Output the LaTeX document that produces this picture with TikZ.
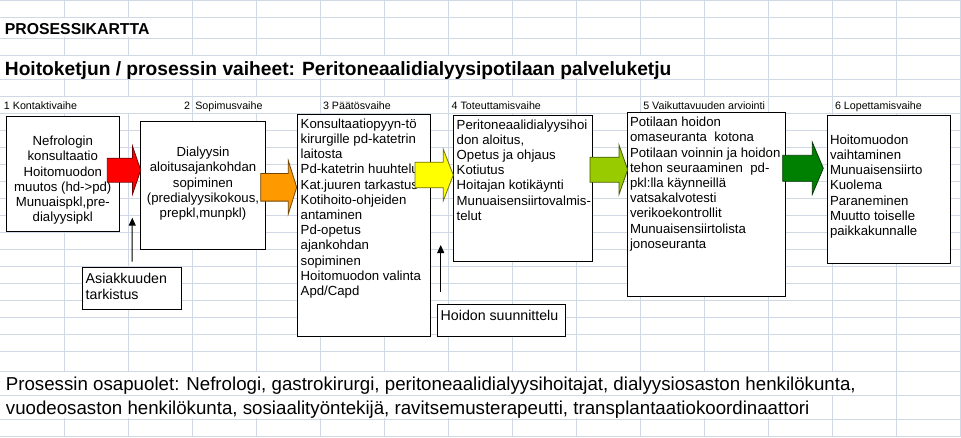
\documentclass[tikz,border=0pt]{standalone}
\usepackage{fontspec}
\setmainfont{Liberation Sans}
\usetikzlibrary{arrows.meta}
\definecolor{gridc}{RGB}{208,215,229}
\definecolor{arrRed}{RGB}{255,0,0}
\definecolor{arrOrange}{RGB}{255,153,0}
\definecolor{arrYellow}{RGB}{255,255,0}
\definecolor{arrLime}{RGB}{153,204,0}
\definecolor{arrGreen}{RGB}{0,128,0}
\newcommand\barrow[7]{%
  \filldraw[blockarrow,fill=#1,draw=#1!45!black]
    (#2,#5-#6) -- (#3,#5-#6) -- (#3,#5-#7) -- (#4,#5) -- (#3,#5+#7)
    -- (#3,#5+#6) -- (#2,#5+#6) -- cycle;}
\begin{document}
\begin{tikzpicture}[x=1pt,y=-1pt,
  gridline/.style={draw=gridc,line width=1pt},
  mask/.style={fill=white},
  box/.style={draw=black,fill=white,line width=1pt,inner sep=0pt,outer sep=0pt,rectangle},
  btext/.style={inner sep=0pt,outer sep=0pt,font=\fontsize{13.2}{15.2}\selectfont},
  ctext/.style={inner sep=0pt,outer sep=0pt,font=\fontsize{14.2}{16}\selectfont,align=left,anchor=north west},
  lbl/.style={inner sep=0pt,outer sep=0pt,font=\fontsize{10.7}{12}\selectfont,anchor=base west},
  blockarrow/.style={line width=0.8pt,line join=miter},
  uparrow/.style={draw=black,line width=1pt,-{Triangle[width=7pt,length=8pt]}}]
\useasboundingbox (0,0) rectangle (961,437);
\fill[white] (0,0) rectangle (961,437);
% grid
\foreach \y in {0.5,17,38,55,79,96.5,113.5,130.5,147.5,164.5,181.5,198.5,215.5,232.5,249.5,266.5,283.5,300.5,317.5,334.5,351.5,371,395.5,419,436}
  \draw[gridline] (0,\y) -- (961,\y);
\foreach \x in {64,128,...,960}
  \draw[gridline] (\x,0) -- (\x,437);
% overflow masks (text spilling over cells hides grid lines)
\fill[mask] (60,17.6) rectangle (150,37.4);
\fill[mask] (60,55.6) rectangle (700,78.4);
\fill[mask] (60,97.1) rectangle (70,112.9);
\fill[mask] (124,97.1) rectangle (132,112.9);
\fill[mask] (252,97.1) rectangle (260,112.9);
\fill[mask] (380,97.1) rectangle (388,112.9);
\fill[mask] (508,97.1) rectangle (516,112.9);
\fill[mask] (700,97.1) rectangle (708,112.9);
\fill[mask] (892,97.1) rectangle (900,112.9);
\fill[mask] (60,371.6) rectangle (840,394.9);
\fill[mask] (60,396.1) rectangle (780,418.4);
% titles
\node[inner sep=0pt,anchor=base west,font=\bfseries\fontsize{15.8}{18}\selectfont] (title1) at (4.7,34.3) {PROSESSIKARTTA};
\node[inner sep=0pt,anchor=base west,font=\bfseries\fontsize{19.2}{22}\selectfont] (title2) at (4.7,75.3) {Hoitoketjun / prosessin vaiheet: Peritoneaalidialyysipotilaan palveluketju};
% phase labels
\node[lbl] (l1) at (4,109.3) {1 Kontaktivaihe};
\node[lbl,anchor=base east] (l2a) at (190,109.3) {2};
\node[lbl] (l2) at (195.3,109.3) {Sopimusvaihe};
\node[lbl] (l3) at (323,109.3) {3 Päätösvaihe};
\node[lbl] (l4) at (451.7,109.3) {4 Toteuttamisvaihe};
\node[lbl] (l5) at (643.3,109.3) {5 Vaikuttavuuden arviointi};
\node[lbl] (l6) at (835,109.3) {6 Lopettamisvaihe};
% boxes
\node[box,anchor=north west,minimum width=113,minimum height=115] (b1) at (6.3,116.3) {};
\node[box,anchor=north west,minimum width=125.4,minimum height=127.7] (b2) at (140.3,121.3) {};
\node[box,anchor=north west,minimum width=133.4,minimum height=222] (b3) at (297.3,114.3) {};
\node[box,anchor=north west,minimum width=139,minimum height=145.3] (b4) at (453.3,115.7) {};
\node[box,anchor=north west,minimum width=157.6,minimum height=183.3] (b5) at (627.7,112.7) {};
\node[box,anchor=north west,minimum width=123,minimum height=147.7] (b6) at (827.3,115.3) {};
\node[box,anchor=north west,minimum width=99.4,minimum height=41.6] (asiak) at (82.3,267.7) {};
\node[box,anchor=north west,minimum width=128.4,minimum height=32.4] (hoidon) at (437.3,304.3) {};
% box texts
\node[btext,align=center,anchor=north] (t1) at (62.8,145.7-10.64) {\strut Nefrologin\\konsultaatio\\Hoitomuodon\\muutos (hd->pd)\\Munuaispkl,pre-\\dialyysipkl};
\node[btext,align=center,anchor=north] (t2) at (203,156.7-10.64) {\strut Dialyysin\\aloitusajankohdan\\sopiminen\\(predialyysikokous,\\prepkl,munpkl)};
\node[btext,align=left,anchor=north west] (t3) at (300.7,128.3-10.64) {\strut Konsultaatiopyyn-tö\\kirurgille pd-katetrin\\laitosta\\Pd-katetrin huuhtelu\\Kat.juuren tarkastus\\Kotihoito-ohjeiden\\antaminen\\Pd-opetus\\ajankohdan\\sopiminen\\Hoitomuodon valinta\\Apd/Capd};
\node[btext,align=left,anchor=north west] (t4) at (456.7,129-10.64) {\strut Peritoneaalidialyysihoi\\don aloitus,\\Opetus ja ohjaus\\Kotiutus\\Hoitajan kotikäynti\\Munuaisensiirtovalmis-\\telut};
\node[btext,align=left,anchor=north west] (t5) at (630,126.7-10.64) {\strut Potilaan hoidon\\omaseuranta\ \ kotona\\Potilaan voinnin ja hoidon\\tehon seuraaminen\ \ pd-\\pkl:lla käynneillä\\vatsakalvotesti\\verikoekontrollit\\Munuaisensiirtolista\\jonoseuranta};
\node[btext,align=left,anchor=north west] (t6) at (830,144.3-10.64) {\strut Hoitomuodon\\vaihtaminen\\Munuaisensiirto\\Kuolema\\Paraneminen\\Muutto toiselle\\paikkakunnalle};
\node[ctext] (ta) at (85.7,283.3-11.2) {\strut Asiakkuuden\\tarkistus};
\node[ctext] (th) at (440.7,320-11.2) {\strut Hoidon suunnittelu};
% block arrows
\barrow{arrRed}{107.3}{132.5}{140.7}{170.2}{12}{24}
\barrow{arrOrange}{260.7}{288.3}{296.7}{187.3}{13.8}{26.7}
\barrow{arrYellow}{415}{443.3}{453.3}{175}{12.8}{25.7}
\barrow{arrLime}{590}{619}{627.7}{169.7}{12.5}{24.7}
\barrow{arrGreen}{782.7}{812.3}{823.3}{168.3}{13}{26}
% thin arrows
\coordinate (tipA) at (132.3,217.7);
\coordinate (tipH) at (440.7,245);
\draw[uparrow] ([yshift=6pt]asiak.north) -- (tipA);
\draw[uparrow] ([xshift=3.4pt,yshift=12.6pt]hoidon.north west) -- (tipH);
% bottom text
\node[inner sep=0pt,anchor=base west,font=\fontsize{18.7}{22}\selectfont] (p1) at (5.7,390.7) {Prosessin osapuolet: Nefrologi, gastrokirurgi, peritoneaalidialyysihoitajat, dialyysiosaston henkilökunta,};
\node[inner sep=0pt,anchor=base west,font=\fontsize{18.7}{22}\selectfont] (p2) at (5.7,414.3) {vuodeosaston henkilökunta, sosiaalityöntekijä, ravitsemusterapeutti, transplantaatiokoordinaattori};
\end{tikzpicture}
\end{document}
